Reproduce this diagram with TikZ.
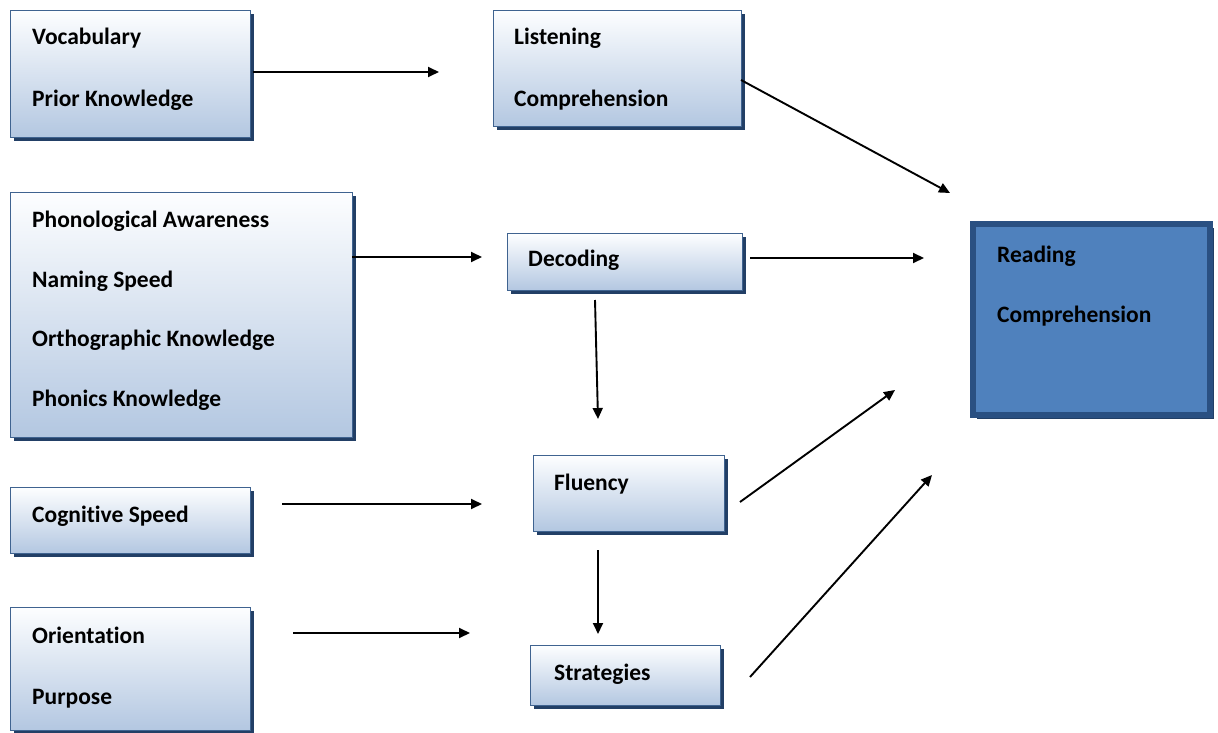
\documentclass[tikz,border=0pt]{standalone}
\usepackage{fontspec}
\setmainfont{Carlito}[Ligatures=NoCommon]
\usetikzlibrary{arrows.meta,shadows}
\definecolor{boxedge}{HTML}{3F6390}
\definecolor{boxtop}{HTML}{FDFEFF}
\definecolor{boxbot}{HTML}{B3C7E1}
\definecolor{shade}{HTML}{223F66}
\definecolor{mainfill}{HTML}{4F81BD}
\definecolor{mainedge}{HTML}{2A5082}
\tikzset{
  x=1pt, y=-1pt,
  box/.style={draw=boxedge, line width=1pt, top color=boxtop, bottom color=boxbot,
    inner sep=0pt, anchor=north west,
    drop shadow={shadow xshift=3.5pt, shadow yshift=-3.5pt, fill=shade, opacity=1}},
  mainbox/.style={draw=mainedge, line width=6pt, fill=mainfill, inner sep=0pt,
    anchor=north west,
    drop shadow={shadow xshift=3.5pt, shadow yshift=-3.5pt, fill=shade, opacity=1}},
  lbl/.style={font=\bfseries\fontsize{23.5}{26}\selectfont, inner sep=0pt, anchor=base west},
  arr/.style={line width=1.9pt, -{Triangle[length=11pt,width=10pt]}},
}
\begin{document}
\begin{tikzpicture}
\useasboundingbox (0,0) rectangle (1218,733);

% boxes
\node[box, minimum width=240pt, minimum height=127pt] (vocab) at (10,10) {};
\node[box, minimum width=248pt, minimum height=116pt] (listen) at (493,10) {};
\node[box, minimum width=342pt, minimum height=245pt] (phon) at (10,192) {};
\node[box, minimum width=235pt, minimum height=57pt] (decode) at (507,233) {};
\node[mainbox, minimum width=237pt, minimum height=191pt] (read) at (970,221) {};
\node[box, minimum width=240pt, minimum height=66pt] (cogn) at (10,487) {};
\node[box, minimum width=191pt, minimum height=76pt] (fluency) at (533,455) {};
\node[box, minimum width=240pt, minimum height=123pt] (orient) at (10,607) {};
\node[box, minimum width=190pt, minimum height=60pt] (strat) at (530,645) {};

% labels
\node[lbl] (tVocab) at (32,45) {Vocabulary};
\node[lbl] (tPrior) at (32,107) {Prior Knowledge};
\node[lbl] (tListen) at (514,45) {Listening};
\node[lbl] (tComp) at (514,107) {Comprehension};
\node[lbl] (tPhon) at (32,227) {Phonological Awareness};
\node[lbl] (tName) at (32,287) {Naming Speed};
\node[lbl] (tOrth) at (32,346) {Orthographic Knowledge};
\node[lbl] (tPhonics) at (32,406) {Phonics Knowledge};
\node[lbl] (tDecode) at (528,266) {Decoding};
\node[lbl] (tRead) at (997,262) {Reading};
\node[lbl] (tRComp) at (997,322) {Comprehension};
\node[lbl] (tCogn) at (32,522) {Cognitive Speed};
\node[lbl] (tFluency) at (554,490) {Fluency};
\node[lbl] (tOrient) at (32,643) {Orientation};
\node[lbl] (tPurpose) at (32,704) {Purpose};
\node[lbl] (tStrat) at (554,680) {Strategies};

% connector end points
\coordinate (a1s) at (253,72);  \coordinate (a1e) at (439,72);
\coordinate (a2s) at (741,80);  \coordinate (a2e) at (950,193);
\coordinate (a3s) at (352,257); \coordinate (a3e) at (482,257);
\coordinate (a4s) at (750,258); \coordinate (a4e) at (924,258);
\coordinate (a5s) at (595,300); \coordinate (a5e) at (598,419);
\coordinate (a6s) at (282,504); \coordinate (a6e) at (482,504);
\coordinate (a7s) at (740,502); \coordinate (a7e) at (895,390);
\coordinate (a8s) at (598,550); \coordinate (a8e) at (598,634);
\coordinate (a9s) at (293,633); \coordinate (a9e) at (470,633);
\coordinate (a10s) at (750,677); \coordinate (a10e) at (932,475);

% connectors
\draw[arr] (a1s) -- (a1e);
\draw[arr] (a2s) -- (a2e);
\draw[arr] (a3s) -- (a3e);
\draw[arr] (a4s) -- (a4e);
\draw[arr] (a5s) -- (a5e);
\draw[arr] (a6s) -- (a6e);
\draw[arr] (a7s) -- (a7e);
\draw[arr] (a8s) -- (a8e);
\draw[arr] (a9s) -- (a9e);
\draw[arr] (a10s) -- (a10e);
\end{tikzpicture}
\end{document}
